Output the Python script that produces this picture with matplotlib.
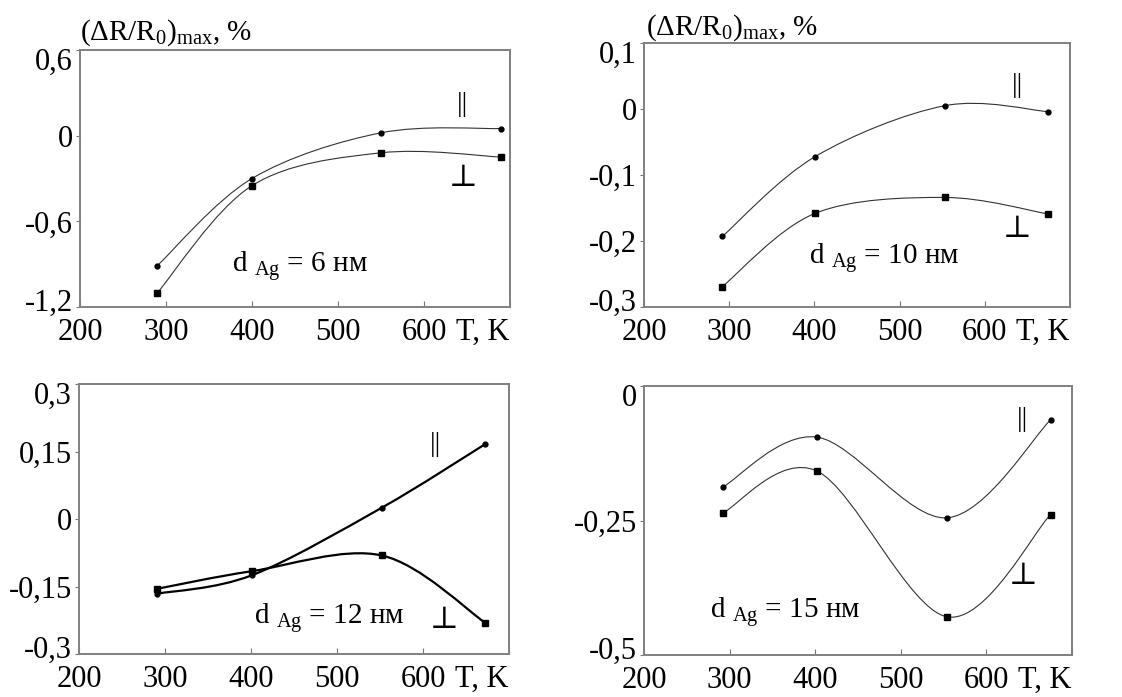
import matplotlib
matplotlib.use("Agg")
import matplotlib.pyplot as plt
import matplotlib.transforms as mtransforms
from matplotlib.path import Path
from matplotlib.patches import PathPatch

plt.rcParams['font.family'] = ['Liberation Serif', 'DejaVu Serif']
plt.rcParams['mathtext.fontset'] = 'custom'
plt.rcParams['mathtext.rm'] = 'Liberation Serif'
plt.rcParams['mathtext.it'] = 'Liberation Serif:italic'

# data
T1 = [290, 400, 550, 690]
R1_par = [-0.91, -0.30, 0.02, 0.05]
R1_perp = [-1.10, -0.35, -0.12, -0.15]

T2 = [292, 401, 553, 674]
R2_par = [-0.193, -0.072, 0.005, -0.004]
R2_perp = [-0.269, -0.158, -0.134, -0.159]

T3 = [291, 401, 552, 672]
R3_par = [-0.166, -0.125, 0.025, 0.166]
R3_perp = [-0.155, -0.116, -0.081, -0.230]

T4 = [292, 402, 554, 675]
R4_par = [-0.188, -0.095, -0.245, -0.063]
R4_perp = [-0.236, -0.158, -0.429, -0.239]

x_ticks = [200, 300, 400, 500, 600, 700]
x_labels = ['200', '300', '400', '500', '600', 'T, K']

y1_ticks = [-1.2, -0.6, 0, 0.6]
y1_labels = ['-1,2', '-0,6', '0', '0,6']
y2_ticks = [-0.3, -0.2, -0.1, 0, 0.1]
y2_labels = ['-0,3', '-0,2', '-0,1', '0', '0,1']
y3_ticks = [-0.3, -0.15, 0, 0.15, 0.3]
y3_labels = ['-0,3', '-0,15', '0', '0,15', '0,3']
y4_ticks = [-0.5, -0.25, 0]
y4_labels = ['-0,5', '-0,25', '0']

thickness = ['6', '10', '12', '15']

W, H = 1122, 697
fig = plt.figure(figsize=(W / 100, H / 100), dpi=100)


def box(l, r, t, b):
    return [l / W, 1 - b / H, (r - l) / W, (b - t) / H]


def smooth(ax, xs, ys, color, lw):
    # catmull-rom style bezier through the points
    n = len(xs)
    pts = list(zip(xs, ys))
    verts = [pts[0]]
    codes = [Path.MOVETO]
    for i in range(n - 1):
        p0 = pts[max(i - 1, 0)]
        p1 = pts[i]
        p2 = pts[i + 1]
        p3 = pts[min(i + 2, n - 1)]
        c1 = (p1[0] + (p2[0] - p0[0]) / 6, p1[1] + (p2[1] - p0[1]) / 6)
        c2 = (p2[0] - (p3[0] - p1[0]) / 6, p2[1] - (p3[1] - p1[1]) / 6)
        verts += [c1, c2, p2]
        codes += [Path.CURVE4] * 3
    ax.add_patch(PathPatch(Path(verts, codes), fill=False, edgecolor=color, lw=lw))


def panel(rect, T, par, perp, yticks, ylabels, d, par_pos, perp_pos, d_pos, color, lw):
    ax = fig.add_axes(rect)
    ax.set_xlim(200, 700)
    ax.set_ylim(yticks[0], yticks[-1])
    smooth(ax, T, par, color, lw)
    smooth(ax, T, perp, color, lw)
    ax.plot(T, par, 'o', color='black', ms=3.5, ls='none')
    ax.plot(T, perp, 's', color='black', ms=5, ls='none')
    ax.set_xticks(x_ticks)
    ax.set_xticklabels(x_labels)
    ax.get_xticklabels()[-1].set_ha('right')
    ax.set_yticks(yticks)
    ax.set_yticklabels(ylabels)
    ax.tick_params(axis='x', direction='in', length=4, labelsize=22, pad=8, color='#777777')
    ax.tick_params(axis='y', direction='out', length=3, labelsize=22, pad=2, color='#777777')
    # end labels sit a little inside the range, as in the original
    ylab_list = ax.get_yticklabels()
    up = mtransforms.ScaledTranslation(0, 7 / 100, fig.dpi_scale_trans)
    down = mtransforms.ScaledTranslation(0, -9 / 100, fig.dpi_scale_trans)
    ylab_list[0].set_transform(ylab_list[0].get_transform() + up)
    ylab_list[-1].set_transform(ylab_list[-1].get_transform() + down)
    for s in ax.spines.values():
        s.set_color('#808080')
        s.set_linewidth(1.4)
    ax.text(par_pos[0], par_pos[1], '||', fontsize=20, ha='center', va='center')
    ax.text(perp_pos[0], perp_pos[1], '⊥', fontsize=22, ha='center', va='center')
    ax.text(d_pos[0], d_pos[1], r'd $_{\mathrm{Ag}}$ = ' + d + ' нм', fontsize=21,
            ha='left', va='center')
    return ax


panel(box(80, 510, 50, 307), T1, R1_par, R1_perp, y1_ticks, y1_labels, thickness[0],
      (645, 0.22), (646, -0.30), (377, -0.91), '#333333', 0.8)
panel(box(644, 1070, 43, 307), T2, R2_par, R2_perp, y2_ticks, y2_labels, thickness[1],
      (638, 0.035), (638, -0.183), (394, -0.226), '#333333', 0.8)
panel(box(79, 509, 384, 654), T3, R3_par, R3_perp, y3_ticks, y3_labels, thickness[2],
      (615, 0.166), (624, -0.226), (403, -0.219), 'black', 1.6)
panel(box(644, 1072, 386, 655), T4, R4_par, R4_perp, y4_ticks, y4_labels, thickness[3],
      (642, -0.062), (643, -0.354), (277, -0.42), '#333333', 0.8)

ylab = '(ΔR/R$_0$)$_{\\mathrm{max}}$, %'
fig.text(80 / W, 1 - 40 / H, ylab, fontsize=21, ha='left', va='baseline')
fig.text(646 / W, 1 - 35 / H, ylab, fontsize=21, ha='left', va='baseline')

fig.savefig('out.png', dpi=100)
